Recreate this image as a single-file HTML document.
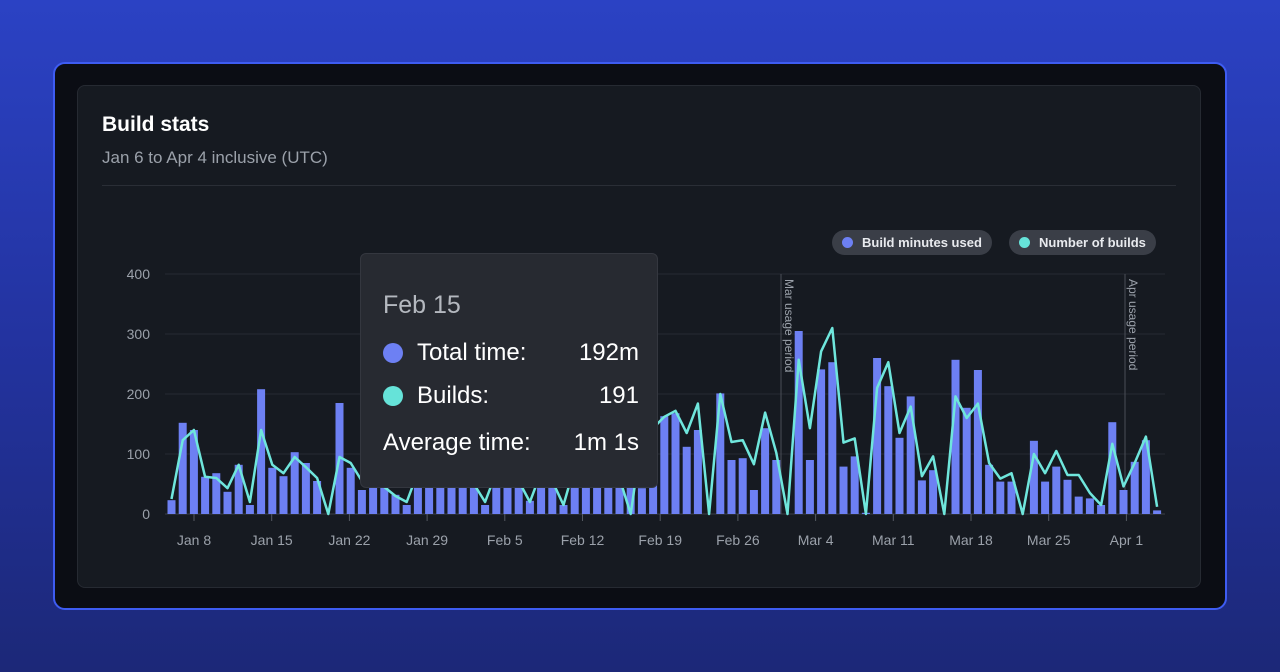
<!DOCTYPE html>
<html><head><meta charset="utf-8"><style>
html,body{margin:0;padding:0;width:1280px;height:672px;overflow:hidden;font-family:"Liberation Sans",sans-serif;}
body{background:linear-gradient(180deg,#2b42c4 0%,#2333a0 50%,#1c2878 100%);position:relative;}
.frame{position:absolute;left:53px;top:62px;width:1170px;height:544px;background:#0b0d14;border:2px solid #3e5cf2;border-radius:12px;}
.card{position:absolute;left:77px;top:85px;width:1122px;height:501px;background:#161a21;border:1px solid #262a32;border-radius:8px;}
.title{position:absolute;left:102px;top:113px;color:#fff;font-size:21px;font-weight:bold;}
.sub{position:absolute;left:102px;top:148px;color:#9ba1aa;font-size:17px;}
.div{position:absolute;left:102px;top:185px;width:1074px;height:1px;background:#2a2e36;}
.pill{position:absolute;top:230px;height:25px;border-radius:13px;background:#3a3e47;color:#e8eaee;font-size:13px;font-weight:bold;line-height:25px;box-sizing:border-box;padding-left:30px;}
.pill i{position:absolute;left:10px;top:7px;width:11px;height:11px;border-radius:50%;}
.tip{position:absolute;left:360px;top:253px;width:298px;height:235px;background:#272a31;border:1px solid #34373f;border-radius:6px;box-sizing:border-box;}
.tip div{position:absolute;font-size:24px;color:#fff;}
.dot{width:20px;height:20px;border-radius:50%;}
</style></head><body>
<div class="frame"></div>
<div class="card"></div>
<div class="title">Build stats</div>
<div class="sub">Jan 6 to Apr 4 inclusive (UTC)</div>
<div class="div"></div>
<div class="pill" style="left:832px;width:160px;"><i style="background:#6d80f3"></i>Build minutes used</div>
<div class="pill" style="left:1009px;width:147px;"><i style="background:#66e3d9"></i>Number of builds</div>
<svg id="c" width="1280" height="672" style="position:absolute;left:0;top:0"></svg>
<div class="tip">
<div style="left:22px;top:37px;color:#b4b8bf;font-size:25px;">Feb 15</div>
<div class="dot" style="left:22px;top:89px;background:#6d80f3"></div>
<div style="left:56px;top:85px;">Total time:</div>
<div style="right:18px;top:85px;">192m</div>
<div class="dot" style="left:22px;top:132px;background:#66e3d9"></div>
<div style="left:56px;top:128px;">Builds:</div>
<div style="right:18px;top:128px;">191</div>
<div style="left:22px;top:175px;">Average time:</div>
<div style="right:18px;top:175px;">1m 1s</div>
</div>
<script>
var D=[[23,25],[152,123],[140,140],[62,62],[68,60],[37,43],[82,82],[15,20],[208,140],[77,82],[63,68],[103,95],[85,78],[55,60],[0,0],[185,95],[77,85],[40,55],[50,60],[45,45],[32,30],[15,20],[60,70],[70,80],[55,60],[65,70],[60,55],[50,50],[15,20],[60,70],[55,60],[50,55],[22,20],[65,70],[60,55],[15,15],[70,80],[60,75],[65,90],[55,85],[60,60],[45,0],[43,130],[98,143],[163,162],[168,172],[112,135],[140,184],[0,0],[201,200],[90,120],[93,123],[40,83],[143,169],[90,102],[0,0],[305,257],[90,143],[241,271],[253,310],[79,119],[96,126],[2,0],[260,210],[213,253],[127,135],[196,179],[56,63],[73,96],[0,0],[257,196],[177,160],[240,184],[82,85],[54,59],[54,68],[0,0],[122,100],[54,68],[79,105],[57,65],[29,65],[26,35],[15,15],[153,117],[40,46],[87,85],[123,129],[6,12]];
var s='';
function X(i){return 171.5+i*11.2;}
function Y(v){return 514-v*0.6;}
for(var g=0;g<=4;g++){var y=514-g*60;s+='<line x1="165" x2="1165" y1="'+y+'" y2="'+y+'" stroke="'+(g?'#262a32':'#3a3e46')+'" stroke-width="1"/>';
s+='<text x="150" y="'+(y+5)+'" text-anchor="end" fill="#9ba1aa" font-size="14" font-family="Liberation Sans">'+(g*100)+'</text>';}
var ticks=['Jan 8','Jan 15','Jan 22','Jan 29','Feb 5','Feb 12','Feb 19','Feb 26','Mar 4','Mar 11','Mar 18','Mar 25','Apr 1'];
for(var t=0;t<ticks.length;t++){var x=194+t*77.7;s+='<line x1="'+x+'" x2="'+x+'" y1="514" y2="521" stroke="#555a63"/>';
s+='<text x="'+x+'" y="545" text-anchor="middle" fill="#9ba1aa" font-size="14" font-family="Liberation Sans">'+ticks[t]+'</text>';}
[[781,'Mar usage period'],[1125,'Apr usage period']].forEach(function(v){s+='<line x1="'+v[0]+'" x2="'+v[0]+'" y1="274" y2="514" stroke="#4a4e56"/>';
s+='<text transform="translate('+(v[0]+4)+',279) rotate(90)" fill="#9ba1aa" font-size="12" font-family="Liberation Sans">'+v[1]+'</text>';});
for(var i=0;i<D.length;i++){var h=D[i][0]*0.6;if(h>0)s+='<rect x="'+(X(i)-4)+'" y="'+(514-h)+'" width="8" height="'+h+'" fill="#6d80f3"/>';}
var p='';for(var i=0;i<D.length;i++){p+=(i?'L':'M')+X(i).toFixed(1)+' '+Y(D[i][1]).toFixed(1);}
s+='<path d="'+p+'" fill="none" stroke="#6fe6dc" stroke-width="2.5" stroke-linejoin="round"/>';
document.getElementById('c').innerHTML=s;
</script>
</body></html>
